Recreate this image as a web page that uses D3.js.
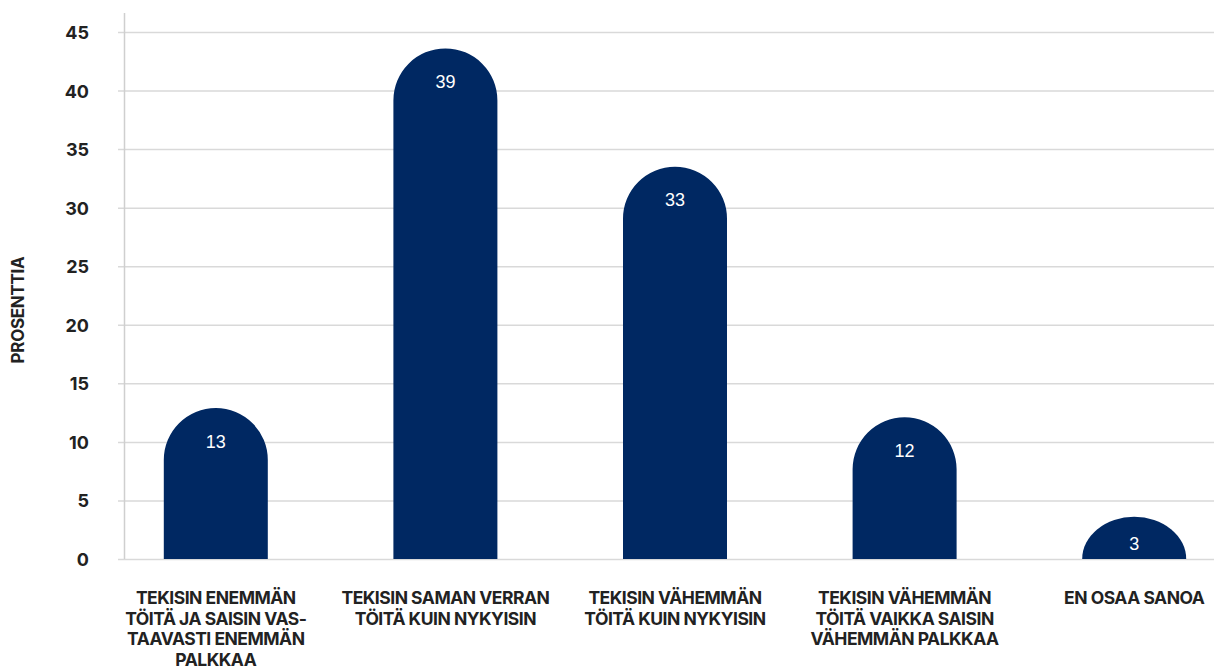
<!DOCTYPE html>
<html>
<head>
<meta charset="utf-8">
<script src="https://cdn.jsdelivr.net/npm/d3@7"></script>
<style>
	html, body { margin: 0; padding: 0; background: #fff; }
	svg { display: block; }
</style>
</head>
<body>
<svg id="chart" width="1214" height="670"></svg>
<script>
	'use strict';

	// data
	const categories = [
		['TEKISIN ENEMMÄN', 'TÖITÄ JA SAISIN VAS-', 'TAAVASTI ENEMMÄN', 'PALKKAA'],
		['TEKISIN SAMAN VERRAN', 'TÖITÄ KUIN NYKYISIN'],
		['TEKISIN VÄHEMMÄN', 'TÖITÄ KUIN NYKYISIN'],
		['TEKISIN VÄHEMMÄN', 'TÖITÄ VAIKKA SAISIN', 'VÄHEMMÄN PALKKAA'],
		['EN OSAA SANOA']
	];
	const values = [13, 39, 33, 12, 3];
	// heights the bars are actually drawn at in the picture
	const barHeights = [12.9, 43.6, 33.5, 12.1, 3.6];
	const yTicks = [0, 5, 10, 15, 20, 25, 30, 35, 40, 45];
	const yTitle = 'PROSENTTIA';

	const svg = d3.select('#chart');
	const boldFont = 'Inter, "DejaVu Sans", sans-serif';

	const x = d3.scalePoint()
		.domain(d3.range(categories.length))
		.range([101, 1249])
		.padding(0.5);

	const y = d3.scaleLinear()
		.domain([0, 45])
		.range([559, 32]);

	const barW = 104;
	const r = barW / 2;

	// gridlines + ticks
	const yAxis = d3.axisLeft(y)
		.tickValues(yTicks)
		.tickSize(-(1214 - 118))
		.tickPadding(29);

	const gy = svg.append('g')
		.attr('transform', 'translate(118,0)')
		.call(yAxis);
	gy.select('.domain').remove();
	gy.selectAll('.tick line')
		.attr('stroke', '#d9d9d9')
		.attr('stroke-width', 1.5);
	gy.selectAll('.tick text')
		.attr('font-family', boldFont)
		.attr('font-weight', 700)
		.attr('font-size', 18)
		.attr('fill', '#222')
		.attr('dy', '0.36em');

	// vertical axis line
	svg.append('line')
		.attr('x1', 124.5).attr('x2', 124.5)
		.attr('y1', 13).attr('y2', y(0))
		.attr('stroke', '#cfcfcf')
		.attr('stroke-width', 1.5);

	// bars with rounded tops
	function barPath(i) {
		const cx = x(i);
		const x0 = cx - r, x1 = cx + r;
		const top = y(barHeights[i]);
		const base = y(0);
		const ry = Math.min(r, base - top);
		return 'M' + x0 + ',' + base +
			'L' + x0 + ',' + (top + ry) +
			'A' + r + ',' + ry + ' 0 0 1 ' + x1 + ',' + (top + ry) +
			'L' + x1 + ',' + base + 'Z';
	}

	const bars = svg.append('g');
	bars.selectAll('path')
		.data(values)
		.enter().append('path')
		.attr('d', function(d, i) { return barPath(i); })
		.attr('fill', '#002862');

	bars.selectAll('text')
		.data(values)
		.enter().append('text')
		.attr('x', function(d, i) { return x(i); })
		.attr('y', function(d, i) {
			const top = y(barHeights[i]);
			const ry = Math.min(r, y(0) - top);
			return top + ry * 0.64;
		})
		.attr('dy', '0.36em')
		.attr('text-anchor', 'middle')
		.attr('font-family', '"Liberation Sans", Arial, sans-serif')
		.attr('font-size', 18)
		.attr('fill', '#fff')
		.text(function(d) { return d; });

	// category labels
	const labels = svg.append('g');
	labels.selectAll('text')
		.data(categories)
		.enter().append('text')
		.attr('x', function(d, i) { return x(i); })
		.attr('y', 598)
		.attr('text-anchor', 'middle')
		.attr('font-family', boldFont)
		.attr('font-weight', 700)
		.attr('font-size', 17.5)
		.attr('letter-spacing', -0.5)
		.attr('fill', '#222')
		.selectAll('tspan')
		.data(function(d) { return d; })
		.enter().append('tspan')
		.attr('x', function() { return d3.select(this.parentNode).attr('x'); })
		.attr('dy', function(d, i) { return i === 0 ? '0.36em' : 20.4; })
		.text(function(d) { return d; });

	// y title
	svg.append('text')
		.attr('transform', 'translate(18,310) rotate(-90)')
		.attr('dy', '0.36em')
		.attr('text-anchor', 'middle')
		.attr('font-family', boldFont)
		.attr('font-weight', 700)
		.attr('font-size', 17)
		.attr('letter-spacing', -0.3)
		.attr('fill', '#222')
		.text(yTitle);
</script>
</body>
</html>
